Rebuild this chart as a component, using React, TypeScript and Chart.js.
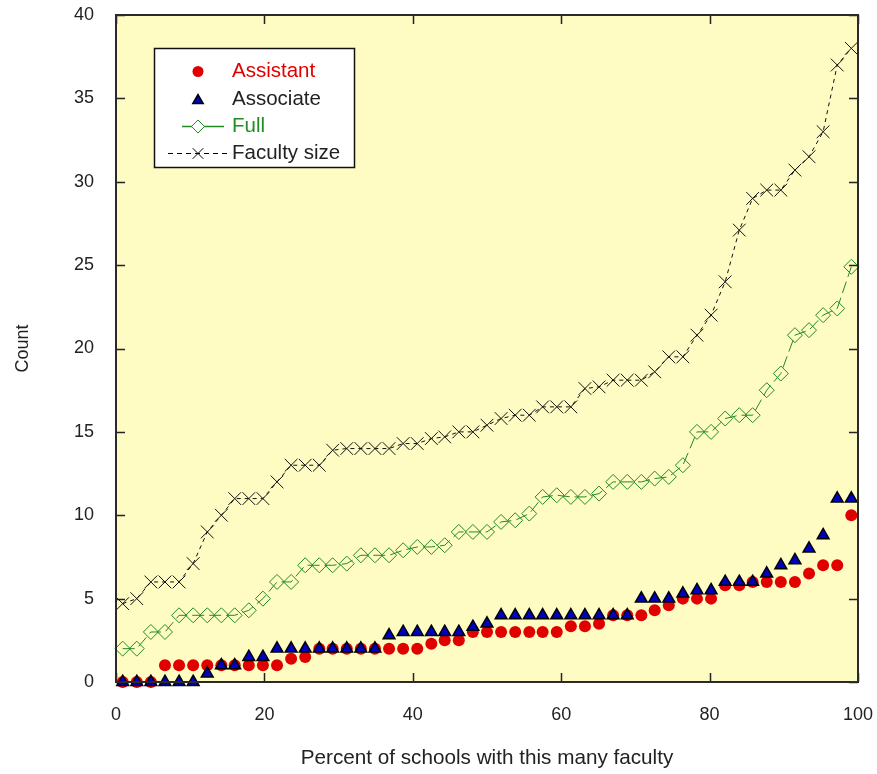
import React, { useEffect, useRef } from 'react';
import { Chart, registerables } from 'chart.js';
import { drawPoint } from 'chart.js/helpers';

Chart.register(...registerables);

// Percentile position of each school (53 schools)
const xPercent = [
  0.9, 2.8, 4.7, 6.6, 8.5, 10.4, 12.3, 14.2, 16.0, 17.9, 19.8, 21.7, 23.6, 25.5, 27.4, 29.2, 31.1, 33.0,
  34.9, 36.8, 38.7, 40.6, 42.5, 44.3, 46.2, 48.1, 50.0, 51.9, 53.8, 55.7, 57.5, 59.4, 61.3, 63.2, 65.1,
  67.0, 68.9, 70.8, 72.6, 74.5, 76.4, 78.3, 80.2, 82.1, 84.0, 85.8, 87.7, 89.6, 91.5, 93.4, 95.3, 97.2, 99.1,
];

const assistant = [
  0, 0, 0, 1, 1, 1, 1, 1, 1, 1, 1, 1, 1.4, 1.5, 2, 2, 2, 2,
  2, 2, 2, 2, 2.3, 2.5, 2.5, 3, 3, 3, 3, 3, 3, 3, 3.35, 3.35, 3.5,
  4, 4, 4, 4.3, 4.6, 5, 5, 5, 5.8, 5.8, 6, 6, 6, 6, 6.5, 7, 7, 10,
];

const associate = [
  0, 0, 0, 0, 0, 0, 0.5, 1, 1, 1.5, 1.5, 2, 2, 2, 2, 2, 2, 2,
  2, 2.8, 3, 3, 3, 3, 3, 3.3, 3.5, 4, 4, 4, 4, 4, 4, 4, 4,
  4, 4, 5, 5, 5, 5.3, 5.5, 5.5, 6, 6, 6, 6.5, 7, 7.3, 8, 8.8, 11, 11,
];

const full = [
  2, 2, 3, 3, 4, 4, 4, 4, 4, 4.3, 5, 6, 6, 7, 7, 7, 7.1, 7.6,
  7.6, 7.6, 7.9, 8.1, 8.1, 8.2, 9, 9, 9, 9.6, 9.7, 10.1, 11.1, 11.2, 11.1, 11.1, 11.3,
  12, 12, 12, 12.2, 12.3, 13, 15, 15, 15.8, 16, 16, 17.5, 18.5, 20.8, 21.1, 22, 22.4, 24.9,
];

const facultySize = [
  4.7, 5, 6, 6, 6, 7.1, 9, 10, 11, 11, 11, 12, 13, 13, 13, 13.9, 14, 14,
  14, 14, 14.3, 14.3, 14.6, 14.7, 15, 15, 15.4, 15.8, 16, 16, 16.5, 16.5, 16.5, 17.6, 17.7,
  18.1, 18.1, 18.1, 18.6, 19.5, 19.5, 20.8, 22, 24, 27.1, 29, 29.5, 29.5, 30.7, 31.5, 33, 37, 38,
];

const xTicks = [0, 20, 40, 60, 80, 100];
const yTicks = [0, 5, 10, 15, 20, 25, 30, 35, 40];
const seriesNames = ['Assistant', 'Associate', 'Full', 'Faculty size'];
const xTitle = 'Percent of schools with this many faculty';
const yTitle = 'Count';

const RED = '#E00000';
const BLUE = '#0000C0';
const GREEN = '#228B22';
const BLACK = '#111111';
const TEXT = '#222222';
const BG = '#FEFCC2';
const FONT = '"Liberation Sans", Arial, sans-serif';

const pts = (ys: number[]) => xPercent.map((x, i) => ({ x, y: ys[i] }));

const framePlugin = {
  id: 'frame',
  beforeDraw(chart: any) {
    const { ctx, chartArea: a } = chart;
    ctx.save();
    ctx.fillStyle = BG;
    ctx.fillRect(a.left, a.top, a.right - a.left, a.bottom - a.top);
    ctx.restore();
  },
  beforeDatasetsDraw(chart: any) {
    const { ctx, chartArea: a, scales } = chart;
    const L = 9;
    ctx.save();
    ctx.strokeStyle = TEXT;
    ctx.lineWidth = 1.5;
    ctx.beginPath();
    xTicks.forEach((v) => {
      const px = Math.round(scales.x.getPixelForValue(v)) + 0.5;
      ctx.moveTo(px, a.bottom);
      ctx.lineTo(px, a.bottom - L);
      ctx.moveTo(px, a.top);
      ctx.lineTo(px, a.top + L);
    });
    yTicks.forEach((v) => {
      const py = Math.round(scales.y.getPixelForValue(v)) + 0.5;
      ctx.moveTo(a.left, py);
      ctx.lineTo(a.left + L, py);
      ctx.moveTo(a.right, py);
      ctx.lineTo(a.right - L, py);
    });
    ctx.stroke();
    ctx.restore();
  },
  afterDatasetsDraw(chart: any) {
    const { ctx, chartArea: a } = chart;
    ctx.save();
    ctx.strokeStyle = '#2a2a2a';
    ctx.lineWidth = 2;
    ctx.strokeRect(a.left, a.top, a.right - a.left, a.bottom - a.top);

    // legend box
    const bx = 154.5, by = 48.5, bw = 200, bh = 119;
    ctx.fillStyle = '#ffffff';
    ctx.fillRect(bx, by, bw, bh);
    ctx.strokeStyle = '#111';
    ctx.lineWidth = 1.5;
    ctx.strokeRect(bx, by, bw, bh);

    const rows = [71.5, 99, 126.5, 153.5];
    const mx = 198;
    const tx = 232;
    // Assistant
    ctx.fillStyle = RED;
    ctx.strokeStyle = RED;
    drawPoint(ctx, { pointStyle: 'circle', radius: 5.5, rotation: 0, borderWidth: 0 } as any, mx, rows[0]);
    // Associate
    ctx.fillStyle = BLUE;
    ctx.strokeStyle = '#000';
    ctx.lineWidth = 1.5;
    drawPoint(ctx, { pointStyle: 'triangle', radius: 6, rotation: 0, borderWidth: 1.5 } as any, mx, rows[1] + 1.5);
    // Full
    ctx.strokeStyle = GREEN;
    ctx.lineWidth = 1.5;
    ctx.beginPath();
    ctx.moveTo(182, rows[2]);
    ctx.lineTo(192, rows[2]);
    ctx.moveTo(204, rows[2]);
    ctx.lineTo(224, rows[2]);
    ctx.stroke();
    ctx.fillStyle = '#ffffff';
    ctx.lineWidth = 1;
    drawPoint(ctx, { pointStyle: 'rectRot', radius: 6.5, rotation: 0, borderWidth: 1 } as any, mx, rows[2]);
    // Faculty size
    ctx.strokeStyle = '#000';
    ctx.lineWidth = 1.2;
    ctx.setLineDash([5, 4]);
    ctx.beginPath();
    ctx.moveTo(168, rows[3]);
    ctx.lineTo(229, rows[3]);
    ctx.stroke();
    ctx.setLineDash([]);
    ctx.lineWidth = 1;
    drawPoint(ctx, { pointStyle: 'crossRot', radius: 7.5, rotation: 0, borderWidth: 1 } as any, mx, rows[3]);

    ctx.font = '20.5px ' + FONT;
    ctx.textBaseline = 'middle';
    ctx.textAlign = 'left';
    const colors = [RED, TEXT, GREEN, TEXT];
    seriesNames.forEach((n, i) => {
      ctx.fillStyle = colors[i];
      ctx.fillText(n, tx, rows[i]);
    });
    ctx.restore();
  },
};

export default function App() {
  const ref = useRef<HTMLCanvasElement | null>(null);

  useEffect(() => {
    if (!ref.current) return;
    Chart.defaults.font.family = FONT;
    const chart = new Chart(ref.current, {
      type: 'scatter',
      data: {
        datasets: [
          {
            label: seriesNames[0],
            data: pts(assistant),
            showLine: false,
            pointStyle: 'circle',
            pointRadius: 6,
            pointBackgroundColor: RED,
            pointBorderColor: RED,
            pointBorderWidth: 0,
            order: 4,
            clip: false,
          },
          {
            label: seriesNames[1],
            data: pts(associate),
            showLine: false,
            pointStyle: 'triangle',
            pointRadius: 6.8,
            pointBackgroundColor: BLUE,
            pointBorderColor: '#000',
            pointBorderWidth: 1.5,
            order: 3,
            clip: false,
          },
          {
            label: seriesNames[2],
            data: pts(full),
            showLine: true,
            borderColor: GREEN,
            borderWidth: 1,
            borderDash: [12, 5],
            pointStyle: 'rectRot',
            pointRadius: 7.5,
            pointBackgroundColor: 'rgba(0,0,0,0)',
            pointBorderColor: GREEN,
            pointBorderWidth: 1,
            order: 2,
            clip: false,
          },
          {
            label: seriesNames[3],
            data: pts(facultySize),
            showLine: true,
            borderColor: BLACK,
            borderWidth: 1,
            borderDash: [4, 4],
            pointStyle: 'crossRot',
            pointRadius: 9,
            pointBorderColor: BLACK,
            pointBorderWidth: 1,
            order: 1,
            clip: false,
          },
        ] as any,
      },
      options: {
        responsive: false,
        animation: false,
        events: [],
        layout: { padding: { top: 15, right: 19, left: 0, bottom: 0 } },
        plugins: {
          legend: { display: false },
          tooltip: { enabled: false },
        },
        scales: {
          x: {
            type: 'linear',
            position: 'bottom',
            min: 0,
            max: 100,
            grid: { display: false, drawTicks: false },
            border: { display: false },
            ticks: { stepSize: 20, padding: 22, color: TEXT, font: { size: 18, family: FONT } },
            title: {
              display: true,
              text: xTitle,
              color: TEXT,
              font: { size: 20.7, family: FONT },
              padding: { top: 0, bottom: 3 },
            },
            afterFit: (s: any) => {
              s.height = 92;
              s.paddingLeft = 0;
              s.paddingRight = 0;
            },
          },
          y: {
            type: 'linear',
            min: 0,
            max: 40,
            grid: { display: false, drawTicks: false },
            border: { display: false },
            ticks: { stepSize: 5, padding: 22, color: TEXT, font: { size: 18, family: FONT } },
            title: {
              display: true,
              text: yTitle,
              color: TEXT,
              font: { size: 18, family: '"Liberation Sans Narrow", ' + FONT },
              padding: { top: 12, bottom: 0 },
            },
            afterFit: (s: any) => {
              s.width = 116;
              s.paddingTop = 0;
              s.paddingBottom = 0;
            },
          },
        },
      } as any,
      plugins: [framePlugin],
    });
    return () => chart.destroy();
  }, []);

  return (
    <div style={{ position: 'absolute', left: 0, top: 0, width: 877, height: 774, background: '#fff' }}>
      <canvas ref={ref} width={877} height={774} style={{ display: 'block' }} />
    </div>
  );
}
